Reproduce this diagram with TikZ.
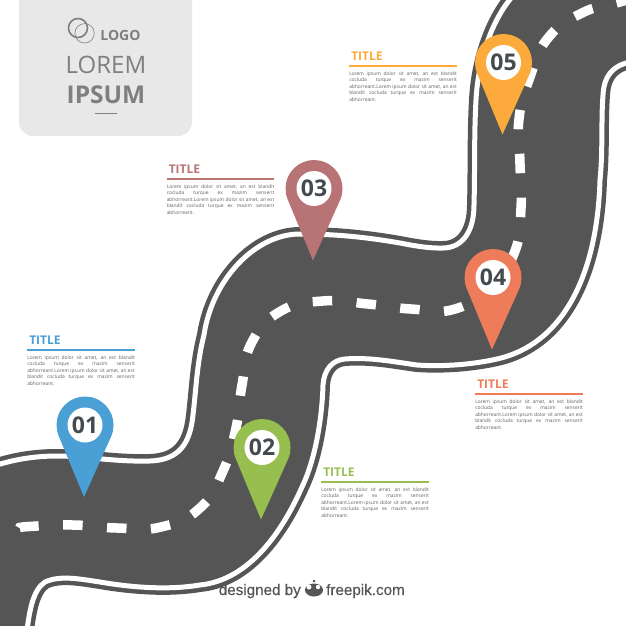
\documentclass[tikz,border=0pt]{standalone}
\usepackage{fontspec}
\setmainfont{Open Sans}
\newfontfamily\myfreepikfont[FakeBold=0.35]{Liberation Sans}
\usepackage{tikz}
\usetikzlibrary{positioning}
\definecolor{myroad}{HTML}{555555}
\definecolor{myblue}{HTML}{4A9FD5}
\definecolor{mygreen}{HTML}{96BF4F}
\definecolor{myrose}{HTML}{B87474}
\definecolor{mycoral}{HTML}{EE7C5B}
\definecolor{myorange}{HTML}{FBAA3B}
\definecolor{mylogo}{HTML}{7F7F7F}
\definecolor{mynumber}{HTML}{454A4F}
\tikzset{
  mybank/.style={
    draw=myroad,
    line width=14pt,
  },
  mywhite/.style={
    draw=white,
    line width=5pt,
  },
  mydash/.style={
    draw=white,
    line width=9.5pt,
    dash pattern=on 19.5pt off 24.5pt,
  },
  mypinhole/.style={
    shape=circle,
    fill=white,
    text=mynumber,
    inner sep=0pt,
    minimum size=35pt,
    font=\fontsize{23}{23}\selectfont\bfseries
  },
  myrule/.style={
    shape=rectangle,
    inner sep=0pt,
    minimum width=107.5pt,
    minimum height=2pt,
  },
  mytitle/.style={
    inner sep=0pt,
    font=\fontsize{12}{12}\selectfont\bfseries
  },
  mybody/.style={
    inner sep=0pt,
    text width=107.5pt,
    align=justify,
    text=black!62,
    font=\fontsize{4.9}{6.6}\selectfont
  },
  mylogotext/.style={
    inner sep=0pt,
    text=mylogo,
  }
}
% one pin: name, x, y, colour, number
\newcommand{\mypin}[5]{
  \node [mypinhole] (#1) at (#2,#3) {#5};
  \begin{pgfonlayer}{pins}
    \fill [#4] (#2-1,#3+72) -- (#2+26.2,#3+11.3)
      arc[start angle=-23.3, end angle=203.3, radius=28.5pt] -- cycle;
  \end{pgfonlayer}
}
\newcommand{\roadupper}{.. controls (5,461) and (30,456) .. (57,456)
  .. controls (85,456) and (115,462) .. (150,461)
  .. controls (178,460) and (190,445) .. (193,415)
  .. controls (196,390) and (197,362) .. (204,335)
  .. controls (212,280) and (255,234) .. (300,234)
  .. controls (335,234) and (365,237) .. (400,243)
  .. controls (415,246) and (430,248.5) .. (443,248)
  .. controls (462,248) and (474,232) .. (474,205)
  .. controls (475,170) and (474,135) .. (476,100)
  .. controls (478,60) and (492,20) .. (512,-3)}
\newcommand{\roadlower}{.. controls (615,62) and (604,74) .. (603,95)
  .. controls (601,120) and (603,150) .. (600,180)
  .. controls (597,280) and (560,345) .. (497,359)
  .. controls (475,364) and (445,367) .. (417,365)
  .. controls (395,362) and (370,357) .. (345,359)
  .. controls (332,360) and (324,370) .. (323,385)
  .. controls (322,420) and (315,460) .. (302,487)
  .. controls (283,530) and (250,580) .. (200,585)
  .. controls (170,590) and (135,588) .. (100,582)
  .. controls (80,579) and (60,575) .. (45,582)
  .. controls (33,590) and (29,610) .. (26,640)}
\newcommand{\mylorem}{Lorem ipsum dolor sit amet, an est blandit\linebreak cocluda turque ex mazim senserit\linebreak
  abhorreant.Lorem ipsum dolor sit amet, an est\linebreak blandit cocluda turque ex mazim senserit\linebreak abhorreant.}
\pgfdeclarelayer{pins}
\pgfsetlayers{pins,main}
\begin{document}
\begin{tikzpicture}[x=1pt, y=-1pt]
  \useasboundingbox (0,0) rectangle (626,626);
  \begin{pgfonlayer}{pins}
  \begin{scope}
    \clip (0,0) rectangle (626,626);
    \fill [myroad] (-20,471) \roadupper -- (650,-15) -- (640,61) \roadlower -- (-15,640) -- cycle;
    \draw [mybank] (-20,471) \roadupper;
    \draw [mywhite] (-20,471) \roadupper;
    \draw [mybank] (640,61) \roadlower;
    \draw [mywhite] (640,61) \roadlower;
    \draw [mydash] plot[smooth, tension=0.8] coordinates {(19.5,528) (29,526.5) (73,525) (117,528) (161,527)
      (200,508) (223,471) (236,428) (242,385) (252,342) (281,311) (323,301) (368,304) (411,309) (455,309)
      (492,285) (515,251) (521,208) (520,164) (519,119) (530,77) (548,38) (582,13) (620,2) (660,-10)};
  \end{scope}

  % logo panel
  \fill [black!9, rounded corners=14pt] (19,-20) rectangle (192,136);
  \draw [mylogo, line width=1.6pt] (78,28) circle (9.5pt);
  \draw [mylogo, line width=0.6pt] (84.6,33.3) circle (9.7pt);
  \draw [mylogo, line width=0.8pt] (95,113) -- (117,113);
  \end{pgfonlayer}

  \node [mylogotext, font=\fontsize{14}{14}\selectfont\bfseries] (logo) at (120.5,35) {LOGO};
  \node [mylogotext, font=\fontsize{24}{24}\selectfont] (lorem) at (106,65) {LOREM};
  \node [mylogotext, font=\fontsize{24.5}{24.5}\selectfont\bfseries] (ipsum) at (106,95) {IPSUM};

  % pins
  \mypin{pin01}{85}{425}{myblue}{01}
  \mypin{pin02}{262}{447.5}{mygreen}{02}
  \mypin{pin03}{314}{188.5}{myrose}{03}
  \mypin{pin04}{493}{277.5}{mycoral}{04}
  \mypin{pin05}{503.5}{62.5}{myorange}{05}

  % text blocks
  \node [myrule, fill=myblue] (rule01) at (81,350) {};
  \node [mytitle, text=myblue, above right=4pt and 2pt of rule01.north west] (title01) {TITLE};
  \node [mybody, below=4pt of rule01] (body01) {\mylorem};

  \node [myrule, fill=mygreen] (rule02) at (375,482) {};
  \node [mytitle, text=mygreen, above right=4pt and 2pt of rule02.north west] (title02) {TITLE};
  \node [mybody, below=4pt of rule02] (body02) {\mylorem};

  \node [myrule, fill=myrose] (rule03) at (220.5,179) {};
  \node [mytitle, text=myrose, above right=4pt and 2pt of rule03.north west] (title03) {TITLE};
  \node [mybody, below=4pt of rule03] (body03) {\mylorem};

  \node [myrule, fill=mycoral] (rule04) at (529,394) {};
  \node [mytitle, text=mycoral, above right=4pt and 2pt of rule04.north west] (title04) {TITLE};
  \node [mybody, below=4pt of rule04] (body04) {\mylorem};

  \node [myrule, fill=myorange] (rule05) at (403,66) {};
  \node [mytitle, text=myorange, above right=4pt and 2pt of rule05.north west] (title05) {TITLE};
  \node [mybody, below=4pt of rule05] (body05) {\mylorem};

  % freepik line
  \node [inner sep=0pt, text=myroad, font=\myfreepikfont\fontsize{15.2}{15.2}\selectfont, anchor=base east] (designed) at (301,595) {designed by};
  \node [inner sep=0pt, text=myroad, font=\myfreepikfont\fontsize{15.2}{15.2}\selectfont, anchor=base west] (freepik) at (326,595) {freepik.com};
  \fill [myroad] (314,590) ellipse (9pt and 6.5pt);
  \fill [myroad] (314,581) circle (1.5pt);
  \fill [white] (309,587) circle (2.5pt);
  \fill [white] (318,587) circle (2.2pt);
\end{tikzpicture}
\end{document}
